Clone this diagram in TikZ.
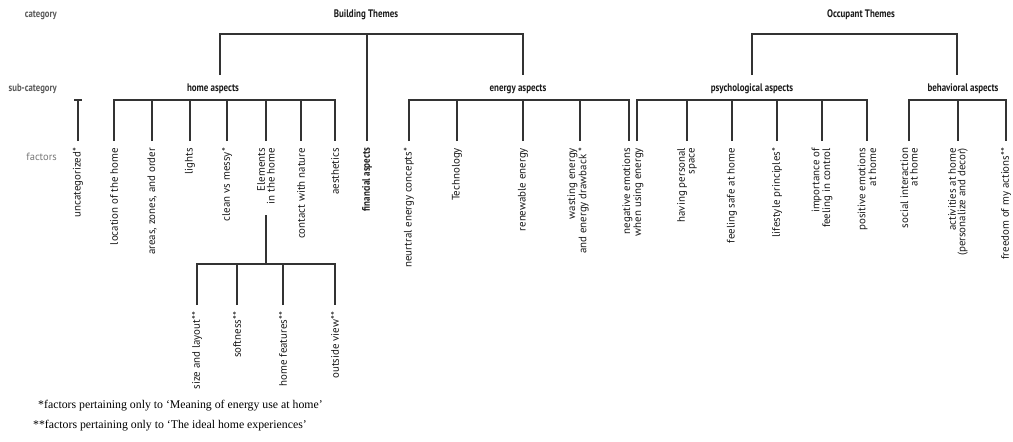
\documentclass[tikz,border=0pt]{standalone}
\usepackage{fontspec}
\setmainfont{PT Sans}
\newfontfamily\condfont[FakeStretch=0.82]{PT Sans}
\newfontfamily\seriffont{Liberation Serif}
\definecolor{linec}{HTML}{333333}
\definecolor{textc}{HTML}{1A1A1A}
\definecolor{sidec}{HTML}{5A5A5A}
\definecolor{facc}{HTML}{777777}
\begin{document}
\begin{tikzpicture}[x=1pt,y=-1pt,
  conn/.style={draw=linec, line width=1.1pt},
  head/.style={inner sep=0pt, text=textc, font=\condfont\bfseries\fontsize{10.9}{12}\selectfont},
  side/.style={anchor=east, inner sep=0pt, text=sidec, font=\condfont\bfseries\fontsize{10.6}{12}\selectfont},
  fac/.style={rotate=90, anchor=east, align=right, inner sep=0pt, outer xsep=7pt, outer ysep=0pt,
     text=textc, font=\fontsize{10.9}{9.6}\selectfont},
  note/.style={anchor=west, inner sep=0pt, text=black, font=\seriffont\fontsize{11.8}{14}\selectfont}]
\useasboundingbox (0,0) rectangle (1013,442);

% side labels
\node[side] (lcat) at (57,15) {category};
\node[side] (lsub) at (57,89) {sub-category};
\node[side, text=facc, font=\fontsize{10.5}{12}\selectfont] (lfac) at (57,157) {factors};

% categories
\node[head] (bt) at (366,15) {Building Themes};
\node[head] (ot) at (861,15) {Occupant Themes};

% sub-categories
\node[head] (home) at (213,89) {home aspects};
\node[head] (energy) at (518,89) {energy aspects};
\node[head] (psych) at (752,89) {psychological aspects};
\node[head] (behav) at (963,89) {behavioral aspects};

% factors
\node[fac] (f-unc) at (78,141) {uncategorized*};
\node[fac] (f-loc) at (114,141) {location of the home};
\node[fac] (f-are) at (152,141) {areas, zones, and order};
\node[fac] (f-lig) at (190,141) {lights};
\node[fac] (f-cle) at (227,141) {clean vs messy*};
\node[fac] (f-ele) at (266,141) {Elements\\in the home};
\node[fac] (f-con) at (301,141) {contact with nature};
\node[fac] (f-aes) at (335,141) {aesthetics};
\node[fac, font=\condfont\bfseries\fontsize{10.9}{9.6}\selectfont] (f-fin) at (367,141) {financial aspects};
\node[fac] (f-neu) at (409,141) {neurtral energy concepts*};
\node[fac] (f-tec) at (457,141) {Technology};
\node[fac] (f-ren) at (523,141) {renewable energy};
\node[fac] (f-was) at (578,141) {wasting energy\\and energy drawback *};
\node[fac] (f-neg) at (633,141) {negative emotions\\when using energy};
\node[fac] (f-hav) at (687,141) {having personal\\space};
\node[fac] (f-fee) at (732,141) {feeling safe at home};
\node[fac] (f-lif) at (777,141) {lifestyle principles*};
\node[fac] (f-imp) at (822,141) {importance of\\feeling in control};
\node[fac] (f-pos) at (867,141) {positive emotions\\at home};
\node[fac] (f-soc) at (909,141) {social interaction\\at home};
\node[fac] (f-act) at (958,141) {activities at home\\(personalize and decor)};
\node[fac] (f-fre) at (1006,141) {freedom of my actions**};

% elements sub-factors
\node[fac] (f-siz) at (197,305) {size and layout**};
\node[fac] (f-sof) at (237,305) {softness**};
\node[fac] (f-hom) at (283,305) {home features**};
\node[fac] (f-out) at (335,305) {outside view**};

% category brackets
\coordinate (hd) at (220,75);
\coordinate (ed) at (523,75);
\coordinate (pd) at (752,75);
\coordinate (bd) at (957,75);
\draw[conn] (hd) -- ++(0,-41) -| (ed);
\draw[conn] (f-fin.east) -- ++(0,-107);
\draw[conn] (pd) -- ++(0,-41) -| (bd);

% uncategorized T
\draw[conn] (f-unc.east) -- ++(0,-41);
\draw[conn] ([xshift=-4pt,yshift=41pt]f-unc.east) -- ++(8,0);

% home aspects
\draw[conn] (f-loc.east) -- ++(0,-41) -| (f-aes.east);
\foreach \n in {f-are,f-lig,f-cle,f-ele,f-con} \draw[conn] (\n.east) -- ++(0,-41);

% energy aspects
\draw[conn] (f-neu.east) -- ++(0,-41) -| ([xshift=-4pt]f-neg.east);
\foreach \n in {f-tec,f-ren} \draw[conn] (\n.east) -- ++(0,-41);
\draw[conn] ([xshift=2pt]f-was.east) -- ++(0,-41);

% psychological aspects
\draw[conn] ([xshift=4pt]f-neg.east) -- ++(0,-41) -| (f-pos.east);
\foreach \n in {f-hav,f-fee,f-lif,f-imp} \draw[conn] (\n.east) -- ++(0,-41);

% behavioral aspects
\draw[conn] (f-soc.east) -- ++(0,-41) -| (f-fre.east);
\draw[conn] (f-act.east) -- ++(0,-41);

% elements subtree
\coordinate (el) at (266,215);
\draw[conn] (el) -- ++(0,49);
\draw[conn] (f-siz.east) -- ++(0,-41) -| (f-out.east);
\foreach \n in {f-sof,f-hom} \draw[conn] (\n.east) -- ++(0,-41);

% notes
\node[note] (n1) at (38,406) {*factors pertaining only to ‘Meaning of energy use at home’};
\node[note] (n2) at (33,426) {**factors pertaining only to ‘The ideal home experiences’};
\end{tikzpicture}
\end{document}
